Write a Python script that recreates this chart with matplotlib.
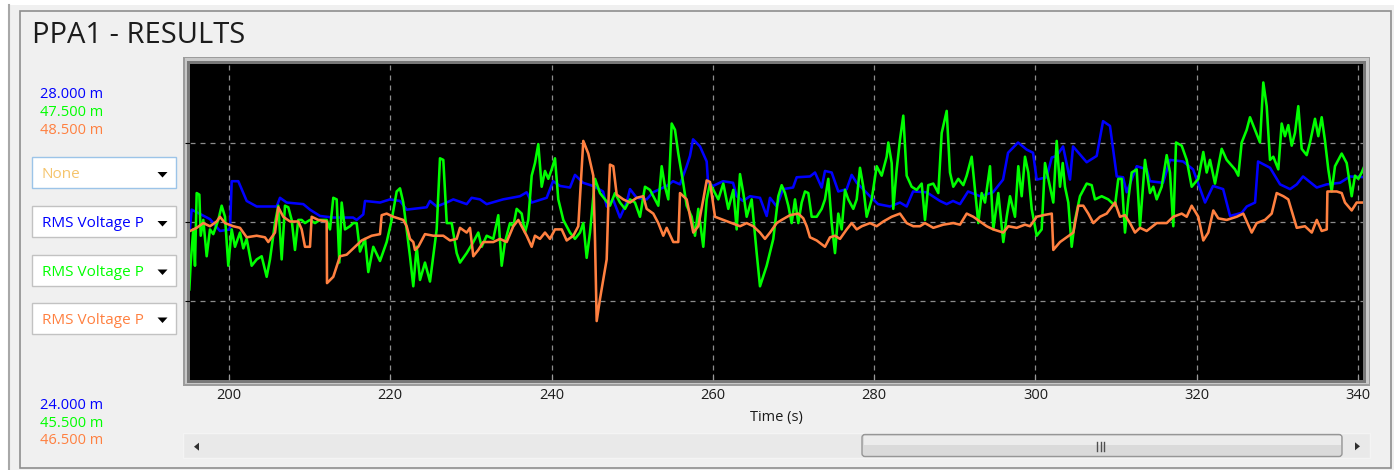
import matplotlib
matplotlib.use('Agg')
import matplotlib.pyplot as plt
from matplotlib.patches import Rectangle, FancyBboxPatch, Polygon

plt.rcParams['font.family'] = ['Open Sans', 'DejaVu Sans']

# ---- data (time in s, values in m-units) ----
blue_t = [195.16, 195.37, 197.64, 198.88, 200.12, 200.33, 201.15, 202.19, 203.43, 205.91,
          206.32, 207.15, 209.21, 210.04, 211.28, 212.90, 215.38, 215.83, 216.65, 216.86,
          218.72, 219.96, 221.20, 222.03, 224.51, 224.92, 225.75, 226.99, 227.81, 229.47,
          230.09, 231.12, 231.95, 233.98, 236.08, 236.91, 237.53, 239.39, 240.18, 241.04,
          242.28, 242.90, 243.90, 245.14, 246.38, 246.84, 247.62, 248.48, 249.31, 249.72,
          250.55, 251.79, 252.58, 254.27, 255.06, 255.92, 256.75, 257.16, 257.54, 258.40,
          259.23, 259.40, 260.02, 261.26, 262.50, 262.95, 263.74, 264.60, 265.84, 266.67,
          267.08, 267.91, 268.70, 269.94, 270.39, 272.04, 272.66, 273.49, 273.90, 274.73,
          275.55, 276.59, 277.21, 277.83, 278.62, 279.48, 280.48, 281.96, 283.20, 284.03,
          284.82, 286.51, 288.16, 288.99, 289.78, 290.64, 291.64, 293.12, 294.74, 295.98,
          296.60, 297.84, 298.91, 299.70, 300.15, 301.39, 302.02, 302.63, 303.42, 304.28,
          304.66, 306.35, 307.59, 308.38, 309.24, 310.08, 310.86, 311.31, 312.56, 313.80,
          314.20, 315.82, 316.69, 318.30, 319.54, 321.03, 322.02, 323.27, 324.13, 325.58,
          326.20, 327.23, 327.60, 329.09, 330.33, 331.57, 332.40, 333.18, 334.88, 336.12,
          337.77, 339.00, 340.87]
blue_v = [25.92, 26.15, 26.03, 25.88, 25.90, 26.51, 26.51, 26.26, 26.19, 26.19,
          26.30, 26.24, 26.22, 26.15, 26.07, 26.05, 26.05, 26.02, 26.09, 26.26,
          26.24, 26.28, 26.26, 26.15, 26.18, 26.26, 26.19, 26.24, 26.28, 26.22,
          26.30, 26.28, 26.22, 26.28, 26.32, 26.37, 26.24, 26.30, 26.51, 26.45,
          26.43, 26.59, 26.49, 26.45, 26.38, 26.19, 26.28, 26.05, 26.24, 26.41,
          26.30, 26.28, 26.37, 26.45, 26.51, 26.47, 26.70, 26.83, 27.04, 26.95,
          26.76, 26.49, 26.45, 26.51, 26.49, 26.32, 26.26, 26.32, 26.30, 26.07,
          26.30, 26.19, 26.41, 26.43, 26.56, 26.57, 26.62, 26.43, 26.64, 26.62,
          26.38, 26.41, 26.59, 26.49, 26.41, 26.32, 26.22, 26.19, 26.24, 26.19,
          26.38, 26.37, 26.26, 26.22, 26.26, 26.22, 26.38, 26.32, 26.37, 26.53,
          26.87, 27.00, 26.91, 26.87, 26.53, 26.56, 26.81, 26.83, 26.95, 26.53,
          26.95, 26.75, 26.83, 27.27, 27.21, 26.57, 26.56, 26.37, 26.70, 26.66,
          26.51, 26.49, 26.78, 26.76, 26.66, 26.24, 26.45, 26.41, 26.07, 26.11,
          26.19, 26.24, 26.76, 26.68, 26.47, 26.41, 26.47, 26.57, 26.43, 26.47,
          26.49, 26.57, 26.56]

green_t = [195.08, 195.25, 195.57, 195.78, 195.99, 196.32, 196.49, 196.81, 197.23, 197.64,
           198.05, 198.67, 199.09, 199.50, 199.91, 200.33, 200.74, 201.36, 201.77, 202.19,
           202.81, 203.43, 204.05, 204.67, 205.08, 205.70, 206.11, 206.53, 206.94, 207.35,
           207.77, 208.18, 208.59, 209.01, 209.42, 210.04, 210.66, 211.28, 212.11, 212.52,
           212.93, 213.35, 213.68, 213.97, 214.38, 215.00, 215.41, 215.83, 216.24, 216.86,
           217.27, 217.89, 218.72, 219.55, 220.17, 220.79, 221.20, 221.61, 222.44, 222.85,
           223.27, 223.68, 224.30, 224.92, 225.75, 226.16, 226.57, 227.00, 227.61, 228.23,
           228.64, 229.47, 230.29, 230.91, 231.33, 231.95, 232.77, 233.39, 233.81, 234.22,
           234.84, 235.25, 235.67, 236.29, 236.70, 237.11, 237.53, 237.94, 238.35, 238.77,
           239.18, 239.59, 240.01, 240.42, 240.83, 241.45, 242.28, 242.90, 243.52, 243.93,
           244.35, 244.76, 245.38, 246.00, 246.62, 247.24, 247.86, 248.48, 249.10, 249.72,
           250.34, 250.96, 251.58, 252.20, 252.61, 253.23, 253.65, 254.06, 254.47, 254.89,
           255.30, 255.71, 256.33, 256.75, 257.37, 257.78, 258.19, 258.81, 259.23, 259.64,
           260.05, 260.67, 261.29, 261.91, 262.53, 262.95, 263.36, 263.77, 264.19, 264.81,
           265.43,
           265.84, 266.67, 267.49, 268.11, 268.53, 268.94, 269.35, 269.77, 270.18, 270.59,
           271.01, 271.42, 271.83, 272.25, 272.87, 273.49, 273.90, 274.31, 274.73, 275.14,
           275.55, 275.97, 276.38, 276.79, 277.41, 277.83, 278.24, 278.65, 279.07, 279.69,
           280.31, 280.93, 281.55, 281.75, 282.17, 282.37, 282.79, 283.20, 283.61, 284.03,
           284.65, 285.27, 285.89, 286.30, 286.71, 287.33, 287.95, 288.37, 288.99, 289.40,
           289.81, 290.43, 291.05, 291.47, 292.09, 292.50, 292.91, 293.33, 293.74, 294.36,
           294.77, 295.39, 296.01, 296.43, 296.84, 297.46, 297.87, 298.29, 298.70, 299.11,
           299.53, 300.15, 300.77, 301.18, 301.80,
           302.21, 302.63, 303.04, 303.38, 303.66, 304.07, 304.49, 304.90, 305.52, 306.35,
           306.97, 307.38, 308.21, 309.03, 309.86, 310.27, 310.69, 311.10, 311.51, 311.93,
           312.55, 312.96, 313.58, 314.20, 314.61, 315.03, 315.65, 316.27, 316.68, 317.09,
           317.43, 318.13, 318.75, 319.37, 320.19, 320.81, 321.23, 321.64, 322.26, 323.09,
           323.71, 324.74, 325.15, 325.57, 326.19, 326.60, 327.22, 327.84, 328.25, 328.67,
           329.08, 329.49, 330.11, 330.53, 330.94, 331.35, 331.77, 332.18, 332.59, 333.01,
           333.63, 334.04, 334.66, 335.07, 335.49, 335.90, 336.31, 336.73, 337.14, 337.97,
           338.59, 339.21, 339.62, 340.03, 340.45, 340.86]
green_v = [46.07, 46.24, 46.45, 46.22, 46.68, 46.67, 46.41, 46.51, 46.28, 46.45,
           46.42, 46.51, 46.60, 46.53, 46.22, 46.45, 46.34, 46.43, 46.33, 46.39,
           46.22, 46.26, 46.28, 46.15, 46.26, 46.49, 46.60, 46.26, 46.60, 46.59,
           46.51, 46.32, 46.51, 46.51, 46.49, 46.51, 46.49, 46.51, 46.51, 46.45,
           46.65, 46.64, 46.24, 46.62, 46.45, 46.47, 46.49, 46.49, 46.31, 46.39,
           46.18, 46.34, 46.25, 46.37, 46.51, 46.69, 46.71, 46.62, 46.28, 46.09,
           46.34, 46.13, 46.24, 46.12, 46.45, 46.90, 46.89, 46.49, 46.49, 46.30,
           46.24, 46.30, 46.37, 46.43, 46.34, 46.41, 46.39, 46.54, 46.22, 46.37,
           46.49, 46.47, 46.58, 46.55, 46.43, 46.51, 46.79, 46.87, 46.99, 46.72,
           46.82, 46.77, 46.83, 46.90, 46.64, 46.51, 46.43, 46.39, 46.43, 46.49,
           46.27, 46.43, 46.77, 46.68, 46.64, 46.60, 46.68, 46.62, 46.58, 46.64,
           46.62, 46.53, 46.72, 46.70, 46.66, 46.60, 46.85, 46.72, 46.64, 47.12,
           47.08, 46.93, 46.74, 46.60, 46.53, 46.41, 46.58, 46.34, 46.64, 46.74,
           46.70, 46.64, 46.74, 46.58, 46.70, 46.45, 46.80, 46.68, 46.53, 46.64,
           46.30,
           46.09, 46.22, 46.39, 46.66, 46.73, 46.68, 46.60, 46.49, 46.64, 46.49,
           46.62, 46.69, 46.68, 46.53, 46.53, 46.58, 46.64, 46.77, 46.49, 46.30,
           46.55, 46.45, 46.70, 46.64, 46.58, 46.64, 46.84, 46.72, 46.53, 46.64,
           46.85, 46.79, 46.91, 47.00, 46.87, 46.58, 46.83, 47.02, 47.17, 46.79,
           46.72, 46.70, 46.74, 46.51, 46.73, 46.74, 46.68, 47.06, 47.20, 46.81,
           46.72, 46.77, 46.73, 46.79, 46.91, 46.70, 46.49, 46.68, 46.62, 46.85,
           46.45, 46.68, 46.37, 46.53, 46.66, 46.53, 46.85, 46.66, 46.91, 46.81,
           46.58, 46.41, 46.45, 46.87, 46.72,
           46.62, 47.01, 46.72, 46.87, 46.72, 46.62, 46.34, 46.51, 46.66, 46.74,
           46.73, 46.64, 46.66, 46.64, 46.60, 46.77, 46.77, 46.43, 46.64, 46.81,
           46.83, 46.47, 46.89, 46.68, 46.72, 46.64, 46.72, 46.92, 46.81, 46.47,
           47.00, 46.98, 46.89, 46.72, 46.77, 46.94, 46.81, 46.89, 46.74, 46.96,
           46.89, 46.83, 46.79, 47.00, 47.08, 47.16, 47.08, 47.00, 47.38, 47.23,
           46.89, 46.91, 46.83, 47.12, 47.04, 47.11, 46.98, 47.06, 47.23, 46.96,
           46.92, 47.00, 47.15, 47.04, 47.16, 47.01, 46.83, 46.69, 46.85, 46.93,
           46.87, 46.66, 46.79, 46.77, 46.81, 46.86]

orange_t = [195.16, 195.99, 196.81, 197.64, 198.47, 198.88, 199.50, 200.53, 201.36, 202.19,
            203.43, 204.46, 204.87, 205.70, 206.11, 206.73, 207.56, 208.59, 209.01, 209.42,
            210.04, 210.25, 211.07, 212.11, 212.15, 212.93, 213.76, 214.59, 215.41, 216.45,
            217.69, 218.72, 218.93, 219.55, 220.37, 221.61, 222.03, 222.44, 222.85, 223.06,
            223.47, 224.30, 225.33, 226.57, 227.40, 228.23,
            228.64, 229.47, 229.88, 230.29, 230.91, 231.53, 232.77, 233.60, 234.43, 235.25,
            235.87, 236.49, 236.91, 237.53, 237.94, 238.56, 239.18, 239.80, 240.42, 241.25,
            241.87, 242.69, 243.31, 243.93, 244.55, 245.17, 245.38, 245.59, 246.00, 246.83,
            247.03, 247.24, 247.65, 248.07, 248.89, 249.72, 250.55, 251.37, 251.79, 252.61,
            253.23, 253.85, 254.27, 255.09, 255.71, 255.92, 256.75, 257.57, 258.19, 258.81,
            259.23, 259.64, 260.26, 261.29, 262.33, 263.36, 264.19, 265.01,
            265.84, 266.46, 267.08, 267.91, 268.53, 269.56, 270.59, 271.21, 271.63, 272.04,
            272.87, 273.90, 274.52, 275.14, 275.76, 276.59, 277.21, 277.83, 278.46, 279.48,
            280.31, 281.13, 282.17, 283.20, 284.03, 284.85, 285.68, 286.30, 287.33, 288.57,
            289.81, 290.64, 291.47, 292.29, 293.12, 293.95, 294.77, 296.01, 296.63, 297.67,
            298.70, 299.32, 300.15, 300.97, 302.02,
            302.21, 303.04, 303.87, 304.69, 305.31, 305.93, 306.55, 307.17, 308.00, 308.83,
            309.86, 310.48, 311.10, 311.72, 312.34, 312.96, 313.79, 315.03, 316.27, 317.09,
            318.13, 318.75, 319.37, 320.19, 320.81, 321.43, 322.05, 322.67, 323.71, 324.95,
            325.77, 326.81, 327.43, 328.46, 329.29, 329.91, 330.74, 331.35, 332.40, 333.42,
            334.26, 334.88, 335.49, 336.12, 336.20, 337.36, 337.97, 338.38, 339.21, 339.83,
            340.86]
orange_v = [47.44, 47.46, 47.49, 47.47, 47.50, 47.53, 47.49, 47.47, 47.46, 47.40,
            47.41, 47.40, 47.37, 47.43, 47.59, 47.53, 47.50, 47.50, 47.45, 47.34,
            47.34, 47.53, 47.51, 47.50, 47.11, 47.15, 47.28, 47.29, 47.33, 47.38,
            47.41, 47.42, 47.54, 47.55, 47.53, 47.51, 47.47, 47.39, 47.37, 47.32,
            47.34, 47.42, 47.41, 47.41, 47.38, 47.39,
            47.46, 47.43, 47.46, 47.28, 47.32, 47.37, 47.37, 47.39, 47.37, 47.47,
            47.51, 47.45, 47.41, 47.34, 47.41, 47.39, 47.43, 47.39, 47.45, 47.45,
            47.38, 47.41, 47.47, 48.01, 47.93, 47.79, 47.39, 46.87, 47.01, 47.26,
            47.60, 47.86, 47.85, 47.67, 47.64, 47.62, 47.65, 47.66, 47.58, 47.55,
            47.49, 47.41, 47.46, 47.37, 47.37, 47.68, 47.64, 47.43, 47.47, 47.64,
            47.76, 47.75, 47.53, 47.51, 47.49, 47.47, 47.49, 47.47,
            47.43, 47.39, 47.43, 47.49, 47.51, 47.54, 47.55, 47.52, 47.47, 47.40,
            47.38, 47.34, 47.40, 47.41, 47.39, 47.45, 47.49, 47.45, 47.47, 47.49,
            47.47, 47.50, 47.53, 47.55, 47.49, 47.47, 47.47, 47.49, 47.46, 47.48,
            47.49, 47.48, 47.55, 47.53, 47.50, 47.47, 47.45, 47.43, 47.47, 47.46,
            47.48, 47.47, 47.53, 47.54, 47.55,
            47.32, 47.37, 47.40, 47.43, 47.60, 47.60, 47.55, 47.49, 47.53, 47.55,
            47.62, 47.53, 47.54, 47.49, 47.43, 47.46, 47.44, 47.49, 47.49, 47.53,
            47.55, 47.53, 47.60, 47.53, 47.38, 47.43, 47.57, 47.52, 47.51, 47.53,
            47.55, 47.43, 47.49, 47.51, 47.55, 47.68, 47.66, 47.64, 47.46, 47.47,
            47.43, 47.51, 47.44, 47.45, 47.69, 47.69, 47.68, 47.62, 47.57, 47.62,
            47.62]

blue_range = (24.0, 28.0)
green_range = (45.5, 47.5)
orange_range = (46.5, 48.5)
time_ticks = [200, 220, 240, 260, 280, 300, 320, 340]
selectors = ['None', 'RMS Voltage P', 'RMS Voltage P', 'RMS Voltage P']

BLUE, GREEN, ORANGE, NONE_COL = '#0000ff', '#00ff00', '#ff8040', '#f5c46c'

W, H = 1399, 470
fig = plt.figure(figsize=(W / 100, H / 100), dpi=100, facecolor='white')

# full-figure axes in pixel units for the window chrome
ui = fig.add_axes([0, 0, 1, 1], zorder=0)
ui.set_xlim(0, W)
ui.set_ylim(H, 0)
ui.axis('off')

ui.add_patch(Rectangle((8, 5), 1386, 470, fc='#f0f0f0', ec='none'))
ui.plot([9, 9], [5, H], color='#a8a8a8', lw=1.5)
ui.add_patch(Rectangle((20, 10.5), 1371, 457.5, fc='none', ec='#8e8e8e', lw=1.2))

ui.text(32, 43.3, 'PPA1 - RESULTS', fontsize=21, color='#1c1c1c', va='baseline')

# plot frame bevel
ui.add_patch(Rectangle((183, 56.5), 1187, 329, fc='#9c9c9c', ec='none'))
ui.add_patch(Rectangle((184.5, 58), 1184, 326, fc='#c8c8c8', ec='none'))
ui.add_patch(Rectangle((187, 61), 1179, 321.5, fc='#787878', ec='none'))

# scale labels
cols = [BLUE, GREEN, ORANGE]
ranges = [blue_range, green_range, orange_range]
for i, (c, r) in enumerate(zip(cols, ranges)):
    ui.text(39.5, 98 + 18 * i, f'{r[1]:.3f} m', fontsize=10.5, color=c, va='baseline')
    ui.text(39.5, 409.3 + 17.6 * i, f'{r[0]:.3f} m', fontsize=10.5, color=c, va='baseline')

# dropdowns
box_tops = [157, 206, 254.5, 302.5]
for i, (lbl, top) in enumerate(zip(selectors, box_tops)):
    ec = '#9cc4e8' if i == 0 else '#c2c2c2'
    ui.add_patch(Rectangle((31.7, top), 144, 31, fc='white', ec=ec, lw=1))
    tc = NONE_COL if i == 0 else cols[i - 1]
    txt = ui.text(41.5, top + 21, lbl, fontsize=11, color=tc, va='baseline')
    txt.set_clip_path(Rectangle((31.7, top), 113, 31, transform=ui.transData))
    ui.add_patch(Polygon([(157.5, top + 15), (167.5, top + 15), (162.5, top + 20.5)],
                         fc='black', ec='none'))

# axis title
ui.text(776.7, 420.8, 'Time (s)', fontsize=10.5, color='#1c1c1c', ha='center', va='baseline')

# scrollbar
ui.add_patch(Rectangle((183, 433), 1187, 25, fc='#e9e9e9', ec='#f4f4f4', lw=1))
ui.add_patch(FancyBboxPatch((862, 434.5), 480, 22,
                            boxstyle='round,pad=0,rounding_size=3',
                            fc='#dadada', ec='#969696', lw=1))
ui.add_patch(Rectangle((863.5, 436), 477, 9, fc='#ececec', ec='none'))
for gx in (1097, 1100.5, 1104):
    ui.plot([gx, gx], [442, 450.5], color='#505050', lw=1)
ui.add_patch(Polygon([(194, 446.7), (199, 442.7), (199, 450.7)], fc='#303030', ec='none'))
ui.add_patch(Polygon([(1360, 446.3), (1355, 442.3), (1355, 450.3)], fc='#303030', ec='none'))

# ---- the plot ----
ax = fig.add_axes([189.5 / W, (H - 379.5) / H, (1363.3 - 189.5) / W, (379.5 - 63.5) / H],
                  zorder=1)
ax.set_facecolor('black')
ax.set_xlim(195.10, 340.65)
ax.set_ylim(*blue_range)
ax.set_xticks(time_ticks)
ax.set_yticks([25, 26, 27])
ax.grid(True, color='#8c8c8c', linestyle=(0, (4, 4)), lw=0.9)
ax.tick_params(axis='x', direction='in', length=4, color='#9a9a9a', pad=6,
               labelsize=10.5, labelcolor='#1c1c1c')
ax.tick_params(axis='y', left=False, labelleft=False)
for s in ax.spines.values():
    s.set_visible(False)

ax.plot(blue_t, blue_v, color=BLUE, lw=1.85)

ax_g = ax.twinx()
ax_g.set_ylim(*green_range)
ax_g.axis('off')
ax_g.plot(green_t, green_v, color=GREEN, lw=1.85)

ax_o = ax.twinx()
ax_o.set_ylim(*orange_range)
ax_o.axis('off')
ax_o.plot(orange_t, orange_v, color=ORANGE, lw=1.85)

fig.savefig('out.png', dpi=100, facecolor=fig.get_facecolor())
